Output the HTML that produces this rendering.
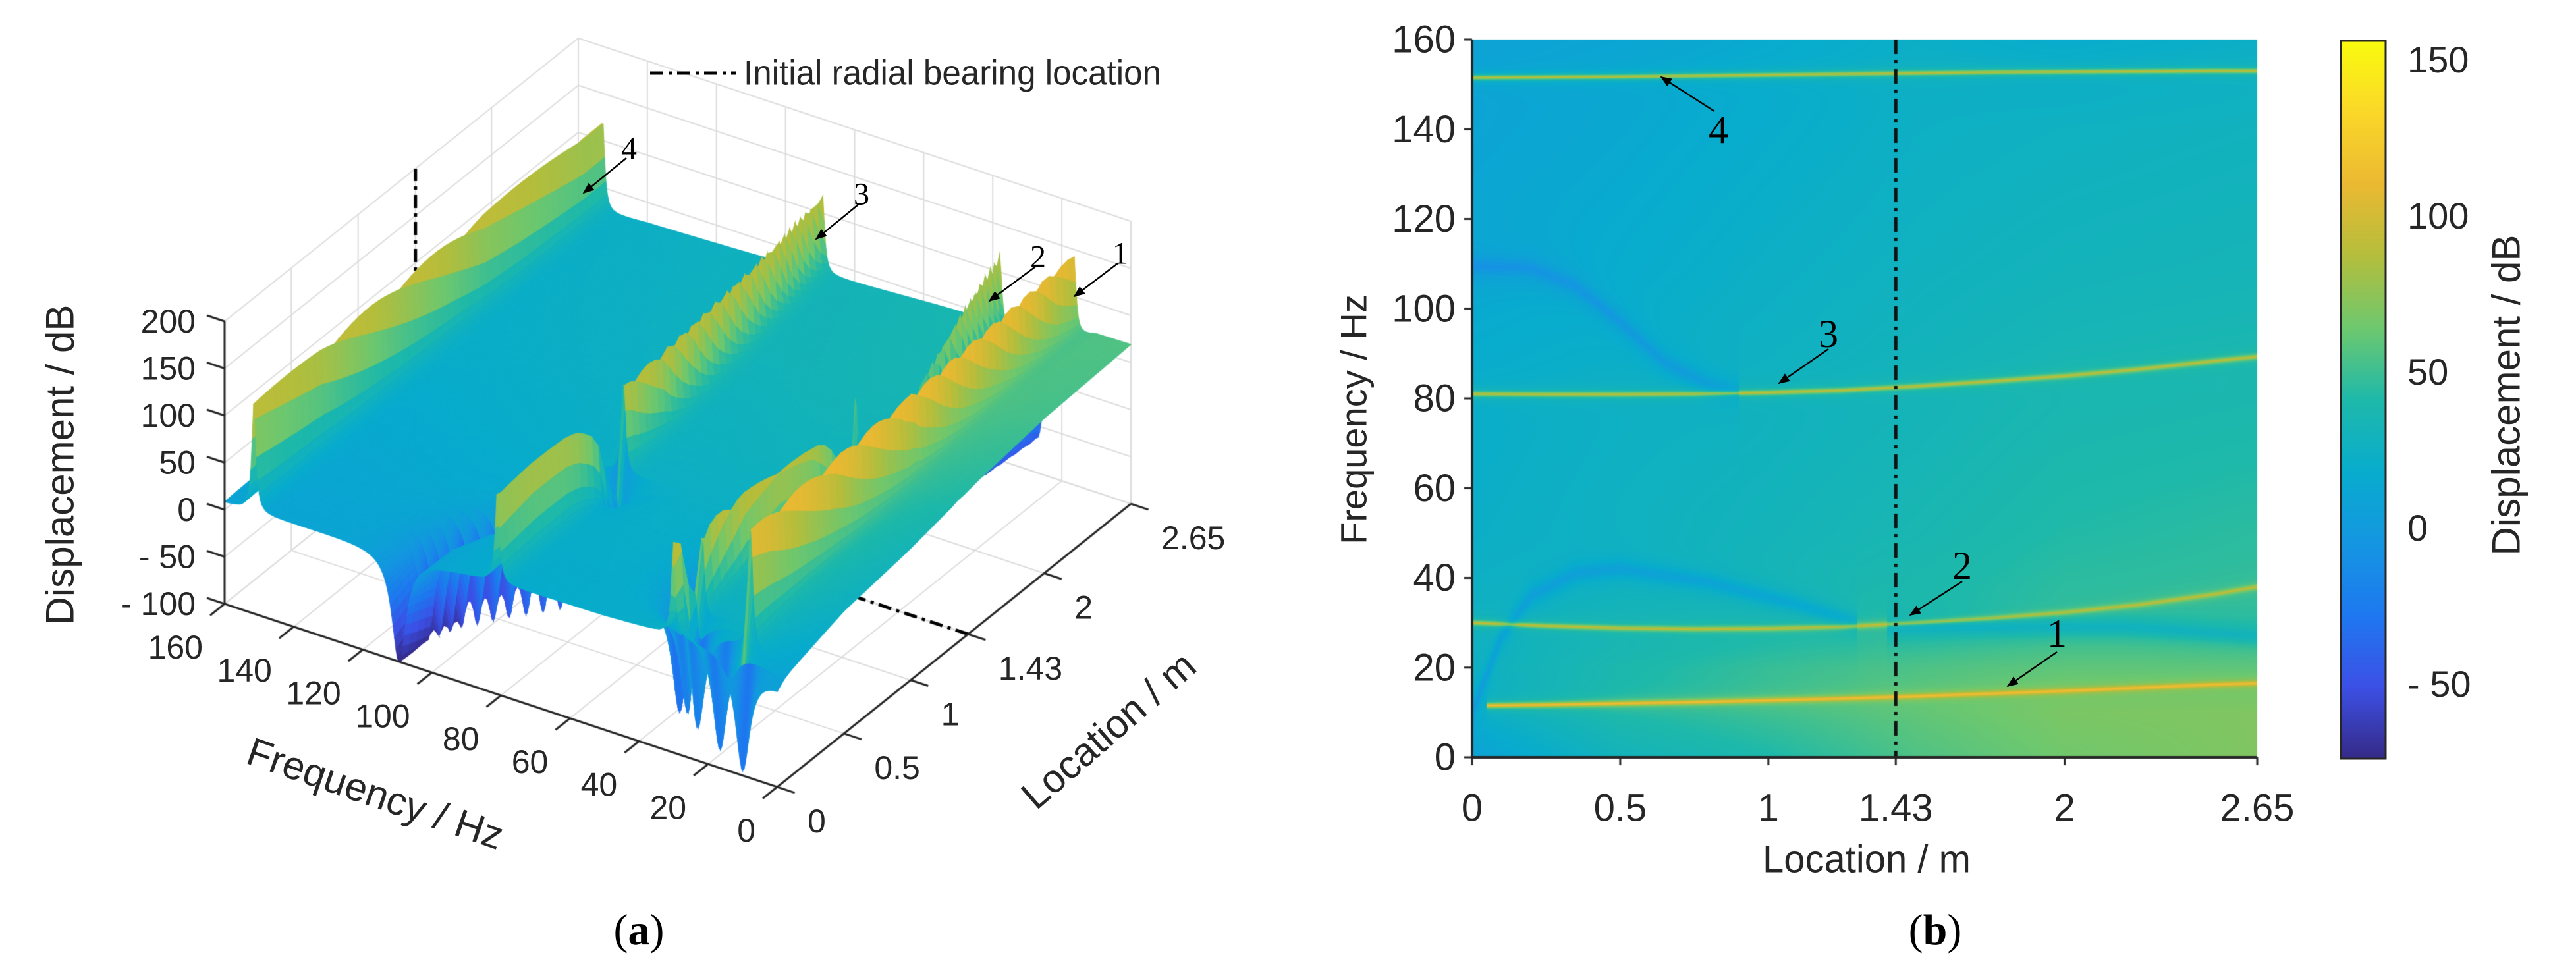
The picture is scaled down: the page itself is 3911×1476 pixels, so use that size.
<!DOCTYPE html>
<html><head><meta charset="utf-8">
<style>
body{margin:0;background:#fff;}
#wrap{position:relative;width:3911px;height:1476px;overflow:hidden;background:#fff;}
#cv,#ov{position:absolute;left:0;top:0;}
text{font-family:"Liberation Sans",sans-serif;fill:#262626;}
.serif{font-family:"Liberation Serif",serif;fill:#000;}
</style></head>
<body>
<div id="wrap">
<canvas id="cv" width="3911" height="1476"></canvas>
<svg id="ov" width="3911" height="1476" xmlns="http://www.w3.org/2000/svg">
  <defs>
    <linearGradient id="cbg" x1="0" y1="1" x2="0" y2="0">
      <stop offset="0" stop-color="rgb(53,42,135)"/>
      <stop offset="0.1" stop-color="rgb(60,80,230)"/>
      <stop offset="0.2" stop-color="rgb(30,120,240)"/>
      <stop offset="0.3" stop-color="rgb(20,150,225)"/>
      <stop offset="0.4" stop-color="rgb(8,172,205)"/>
      <stop offset="0.5" stop-color="rgb(30,185,170)"/>
      <stop offset="0.6" stop-color="rgb(110,200,110)"/>
      <stop offset="0.7" stop-color="rgb(180,190,60)"/>
      <stop offset="0.8" stop-color="rgb(235,185,50)"/>
      <stop offset="0.9" stop-color="rgb(250,215,40)"/>
      <stop offset="1" stop-color="rgb(249,251,14)"/>
    </linearGradient>
    <marker id="ah" viewBox="0 0 10 10" refX="9" refY="5" markerWidth="7" markerHeight="7" orient="auto"><path d="M0,1 L10,5 L0,9 z" fill="#000"/></marker>
  </defs>
  <g id="gA">
    <text x="91" y="706" font-size="60" text-anchor="middle" dominant-baseline="central" transform="rotate(-90 91 706)">Displacement / dB</text>
    <text x="570" y="1205" font-size="60" text-anchor="middle" dominant-baseline="central" transform="rotate(19 570 1205)">Frequency / Hz</text>
    <text x="1683" y="1109" font-size="60" text-anchor="middle" dominant-baseline="central" transform="rotate(-41 1683 1109)">Location / m</text>
    <line x1="987" y1="111" x2="1118" y2="111" stroke="#000" stroke-width="5" stroke-dasharray="20,8,5,8"/>
    <text x="1129" y="111" font-size="53" dominant-baseline="central" textLength="634" lengthAdjust="spacingAndGlyphs">Initial radial bearing location</text>
    <text class="serif" x="970" y="1412" font-size="66" text-anchor="middle" dominant-baseline="central">(<tspan font-weight="bold">a</tspan>)</text>
  </g>
  <g id="gB">
    <text x="2055" y="637" font-size="56" text-anchor="middle" dominant-baseline="central" transform="rotate(-90 2055 637)">Frequency / Hz</text>
    <text x="2834" y="1305" font-size="58" text-anchor="middle" dominant-baseline="central">Location / m</text>
    <rect x="3554" y="62" width="68" height="1090" fill="url(#cbg)" stroke="#262626" stroke-width="3"/>
    <text x="3805" y="600" font-size="60" text-anchor="middle" dominant-baseline="central" transform="rotate(-90 3805 600)">Displacement / dB</text>
    <text class="serif" x="2938" y="1412" font-size="66" text-anchor="middle" dominant-baseline="central">(<tspan font-weight="bold">b</tspan>)</text>
  </g>
</svg>
</div>
<script>
// ---------- data ----------
const locs=[0,0.25,0.5,0.75,1,1.25,1.5,1.75,2,2.25,2.5,2.65];
const mode1F=[11.5,11.7,12.0,12.3,12.7,13.1,13.6,14.2,14.8,15.5,16.2,16.5];
const mode2F=[30,29.3,28.8,28.6,28.7,29.1,30.0,31.0,32.3,34.0,36.3,38];
const mode3F=[81,80.9,80.9,81,81.3,81.8,82.7,83.8,85,86.5,88.3,89.3];
const mode4F=[151.5,151.6,151.7,151.9,152.1,152.3,152.5,152.7,152.8,152.9,153,153];
const modeLevel2D=[115,92,90,88];
const modeLevel3D=[150,125,120,125];
const antiALocs=[0,0.2,0.35,0.5,0.65,0.8,0.9];
const antiAF=[109.5,109,105,97,88,83,81.5];
const antiBLocs=[0,0.1,0.2,0.35,0.5,0.8,1.1,1.3];
const antiBF=[10,27,36,41,42,39,34,30];
const antiCLocs=[1.4,1.8,2.2,2.65];
const antiCF=[29,29,29,27];
const baseLocs=[0,0.5,1,1.5,2,2.65];
const baseFreqs=[0,10,20,30,50,80,110,140,160];
const baseRow0=[8,30,40,55,65,70];
const baseRow10=[20,40,50,60,68,70];
const baseRow20=[26,38,48,55,60,60];
const baseRow30=[26,32,36,42,48,48];
const baseRow50=[22,27,31,36,42,45];
const baseRow80=[20,24,27,31,36,38];
const baseRow110=[14,18,23,27,30,32];
const baseRow140=[10,14,19,24,26,28];
const baseRow160=[8,11,16,22,18,22];
const freqTicks=[0,20,40,60,80,100,120,140,160];
const locTicks=[0,0.5,1,1.43,2,2.65];
const zTicks=[-100,-50,0,50,100,150,200];
const zTickText=['- 100','- 50','0','50','100','150','200'];
const cbTicks=[-50,0,50,100,150];
const cbTickText=['- 50','0','50','100','150'];
const bearingLoc=1.43;

// ---------- helpers ----------
const baseRows=[baseRow0,baseRow10,baseRow20,baseRow30,baseRow50,baseRow80,baseRow110,baseRow140,baseRow160];
const modes=[mode1F,mode2F,mode3F,mode4F];
const antis=[[antiALocs,antiAF],[antiBLocs,antiBF],[antiCLocs,antiCF]];
function interp(xs,ys,x){
  if(x<=xs[0])return ys[0];
  for(let i=1;i<xs.length;i++){ if(x<=xs[i]){const t=(x-xs[i-1])/(xs[i]-xs[i-1]);return ys[i-1]+t*(ys[i]-ys[i-1]);} }
  return ys[ys.length-1];
}
function baseAt(f,l){
  const col=baseRows.map(r=>interp(baseLocs,r,l));
  return interp(baseFreqs,col,f);
}
function field(f,l,lv,w,ad,aw){
  const b=baseAt(f,l); let v=b;
  for(let i=0;i<4;i++){
    if(i===0&&l<0.05)continue;
    const fm=interp(locs,modes[i],l); const d=(f-fm)/w; const k=1/(1+d*d);
    v=v+(lv[i]-v)*k;
  }
  for(const [L,F] of antis){
    if(l>=L[0]&&l<=L[L.length-1]){const fa=interp(L,F,l);const d=(f-fa)/aw;v-=ad/(1+d*d);}
  }
  return v;
}
const CM=[[0,53,42,135],[0.1,60,80,230],[0.2,30,120,240],[0.3,20,150,225],[0.4,8,172,205],[0.5,30,185,170],[0.6,110,200,110],[0.7,180,190,60],[0.8,235,185,50],[0.9,250,215,40],[1,249,251,14]];
function cmap(t){
  t=Math.max(0,Math.min(1,t));
  for(let i=1;i<CM.length;i++){ if(t<=CM[i][0]){const a=CM[i-1],b=CM[i];const u=(t-a[0])/(b[0]-a[0]);
    return [a[1]+u*(b[1]-a[1]),a[2]+u*(b[2]-a[2]),a[3]+u*(b[3]-a[3])];}}
  return [249,251,14];
}
const NS='http://www.w3.org/2000/svg';
const gA=document.getElementById('gA'), gB=document.getElementById('gB');
function addText(parent,x,y,str,size,anchor,name,cls){
  const t=document.createElementNS(NS,'text');
  t.setAttribute('x',x);t.setAttribute('y',y);t.setAttribute('font-size',size);
  t.setAttribute('text-anchor',anchor);t.setAttribute('dominant-baseline','central');
  if(cls)t.setAttribute('class',cls);
  
  
  t.textContent=str;parent.appendChild(t);return t;
}
function addArrow(parent,x1,y1,x2,y2,name){
  const l=document.createElementNS(NS,'line');
  l.setAttribute('x1',x1);l.setAttribute('y1',y1);l.setAttribute('x2',x2);l.setAttribute('y2',y2);
  l.setAttribute('stroke','#000');l.setAttribute('stroke-width','2.5');l.setAttribute('marker-end','url(#ah)');
  
  
  parent.appendChild(l);
}
const cv=document.getElementById('cv');const ctx=cv.getContext('2d');
function line(p,q,col,w,dash){ctx.beginPath();ctx.strokeStyle=col;ctx.lineWidth=w;ctx.setLineDash(dash||[]);ctx.moveTo(p[0],p[1]);ctx.lineTo(q[0],q[1]);ctx.stroke();ctx.setLineDash([]);}

// ---------- panel a (3D) ----------
function P(f,l,z){const a=(160-f)/160,b=l/2.65;return [341+a*839+b*537, 917+a*278-b*430-(z+100)*1.43];}
const G='#dcdcdc';
for(const f of freqTicks){line(P(f,2.65,-100),P(f,2.65,200),G,2);line(P(f,0,-100),P(f,2.65,-100),G,2);}
for(const z of zTicks){line(P(0,2.65,z),P(160,2.65,z),G,2);line(P(160,0,z),P(160,2.65,z),G,2);}
for(const l of locTicks){line(P(160,l,-100),P(160,l,200),G,2);line(P(0,l,-100),P(160,l,-100),G,2);}
line(P(160,bearingLoc,-100),P(160,bearingLoc,200),'#000',5,[20,8,5,8]);
line(P(0,bearingLoc,-100),P(160,bearingLoc,-100),'#000',5,[20,8,5,8]);
const NF=400,NL=53;const Z=[];
for(let i=0;i<=NF;i++){const f=i*160/NF;const row=[];for(let j=0;j<=NL;j++){const l=j*2.65/NL;
  row.push(Math.max(-100,Math.min(200,field(f,l,modeLevel3D,0.7,115,2.5))));}Z.push(row);}
const cells=[];for(let i=0;i<NF;i++)for(let j=0;j<NL;j++)cells.push([i,j,(i+0.5)/NF+(j+0.5)/NL]);
cells.sort((a,b)=>b[2]-a[2]);
for(const [i,j] of cells){
  const f0=i*160/NF,f1=(i+1)*160/NF,l0=j*2.65/NL,l1=(j+1)*2.65/NL;
  const z00=Z[i][j],z10=Z[i+1][j],z11=Z[i+1][j+1],z01=Z[i][j+1];
  const c=cmap(((z00+z10+z11+z01)/4+100)/300);const col='rgb('+(c[0]|0)+','+(c[1]|0)+','+(c[2]|0)+')';
  const p1=P(f0,l0,z00),p2=P(f1,l0,z10),p3=P(f1,l1,z11),p4=P(f0,l1,z01);
  ctx.beginPath();ctx.moveTo(p1[0],p1[1]);ctx.lineTo(p2[0],p2[1]);ctx.lineTo(p3[0],p3[1]);ctx.lineTo(p4[0],p4[1]);ctx.closePath();
  ctx.fillStyle=col;ctx.fill();ctx.strokeStyle=col;ctx.lineWidth=1.2;ctx.stroke();
}
const AX='#262626';
line(P(160,0,-100),P(160,0,200),AX,3);
line(P(160,0,-100),P(0,0,-100),AX,3);
line(P(0,0,-100),P(0,2.65,-100),AX,3);
zTicks.forEach((z,k)=>{const p=P(160,0,z);line(p,[p[0]-27,p[1]-9],AX,3);addText(gA,297,p[1],zTickText[k],50,'end','z-tick-label');});
freqTicks.forEach(f=>{const p=P(f,0,-100);line(p,[p[0]-22,p[1]+17.5],AX,3);addText(gA,p[0]-33,p[1]+66,String(f),50,'end','frequency-tick-label');});
locTicks.forEach(l=>{const p=P(0,l,-100);line(p,[p[0]+26.6,p[1]+8.8],AX,3);addText(gA,p[0]+46,p[1]+52,String(l),50,'start','location-tick-label');});
addText(gA,955,226,'4',48,'middle','mode-4-label-a','serif');addArrow(gA,951,240,886,293,'mode-4-arrow-a');
addText(gA,1308,295,'3',48,'middle','mode-3-label-a','serif');addArrow(gA,1304,310,1239,363,'mode-3-arrow-a');
addText(gA,1576,390,'2',48,'middle','mode-2-label-a','serif');addArrow(gA,1572,405,1502,457,'mode-2-arrow-a');
addText(gA,1701,385,'1',48,'middle','mode-1-label-a','serif');addArrow(gA,1697,400,1631,450,'mode-1-arrow-a');

// ---------- panel b (heatmap) ----------
const X0=2235,X1=3427,Y0=60,Y1=1150;const W=X1-X0,H=Y1-Y0;
const img=ctx.createImageData(W,H);
for(let x=0;x<W;x++){const l=(x+0.5)/W*2.65;
  for(let y=0;y<H;y++){const f=(H-y-0.5)/H*160;
    const v=field(f,l,modeLevel2D,0.45,22,1.8);const c=cmap((v+74)/230);
    const k=(y*W+x)*4;img.data[k]=c[0];img.data[k+1]=c[1];img.data[k+2]=c[2];img.data[k+3]=255;}}
ctx.putImageData(img,X0,Y0);
const xs=l=>X0+l/2.65*W, ys=f=>Y1-f/160*H;
line([xs(bearingLoc),Y0],[xs(bearingLoc),Y1],'#111',5,[22,9,5,9]);
line([X0,Y0],[X0,Y1+2],AX,4);line([X0-2,Y1],[X1,Y1],AX,4);
freqTicks.forEach(f=>{line([X0,ys(f)],[X0-12,ys(f)],AX,3);addText(gB,2210,ys(f),String(f),58,'end','y-tick-label');});
locTicks.forEach(l=>{line([xs(l),Y1],[xs(l),Y1+12],AX,3);addText(gB,xs(l),1227,String(l),58,'middle','x-tick-label');});
cbTicks.forEach((v,k)=>{const y=1152-(v+74)/230*1090;line([3622,y],[3608,y],AX,3);addText(gB,3655,y,cbTickText[k],56,'start','colorbar-tick-label');});
addText(gB,2609,197,'4',60,'middle','mode-4-label-b','serif');addArrow(gB,2603,169,2522,117,'mode-4-arrow-b');
addText(gB,2776,507,'3',60,'middle','mode-3-label-b','serif');addArrow(gB,2776,530,2701,582,'mode-3-arrow-b');
addText(gB,2979,859,'2',60,'middle','mode-2-label-b','serif');addArrow(gB,2979,883,2900,934,'mode-2-arrow-b');
addText(gB,3123,962,'1',60,'middle','mode-1-label-b','serif');addArrow(gB,3123,990,3048,1042,'mode-1-arrow-b');
</script>
</body></html>
